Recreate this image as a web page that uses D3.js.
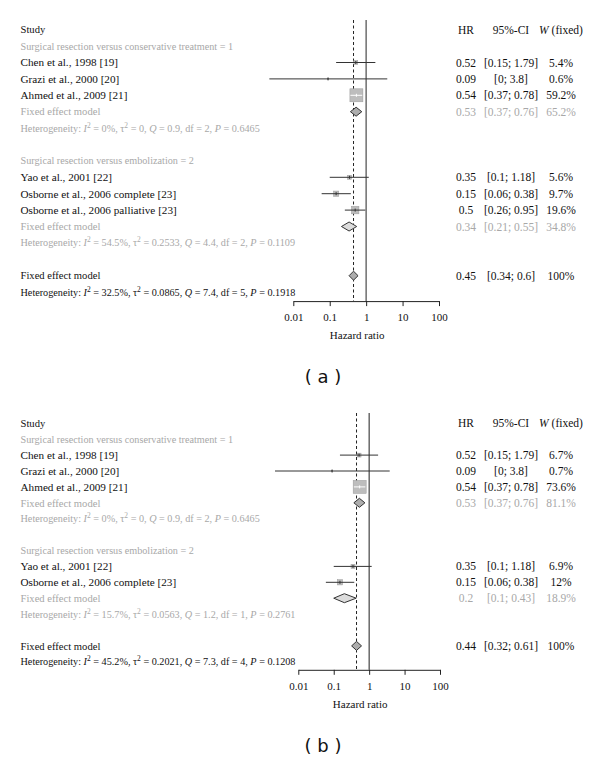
<!DOCTYPE html>
<html>
<head>
<meta charset="utf-8">
<script src="https://cdn.jsdelivr.net/npm/d3@7"></script>
<style>
  body { margin: 0; background: #fff; }
  text { font-family: "Liberation Serif", "DejaVu Serif", serif; }
</style>
</head>
<body>
<svg width="600" height="762"></svg>
<script>
// data
const groupLabels = ["Surgical resection versus conservative treatment = 1",
                     "Surgical resection versus embolization = 2"];
const tickValues = [0.01, 0.1, 1, 10, 100];

// panel (a)
const studiesA = ["Chen et al., 1998 [19]", "Grazi et al., 2000 [20]", "Ahmed et al., 2009 [21]",
                  "Yao et al., 2001 [22]", "Osborne et al., 2006 complete [23]", "Osborne et al., 2006 palliative [23]"];
const groupA = [1, 1, 1, 2, 2, 2];
const hrA = [0.52, 0.09, 0.54, 0.35, 0.15, 0.5];
const loA = [0.15, 0.0022, 0.37, 0.1, 0.06, 0.26];
const hiA = [1.79, 3.8, 0.78, 1.18, 0.38, 0.95];
const ciTextA = ["[0.15; 1.79]", "[0; 3.8]", "[0.37; 0.78]", "[0.1; 1.18]", "[0.06; 0.38]", "[0.26; 0.95]"];
const wA = [5.4, 0.6, 59.2, 5.6, 9.7, 19.6];
const poolHrA = [0.53, 0.34, 0.45];   // group 1, group 2, overall
const poolLoA = [0.37, 0.21, 0.34];
const poolHiA = [0.76, 0.55, 0.6];
const poolCiTextA = ["[0.37; 0.76]", "[0.21; 0.55]", "[0.34; 0.6]"];
const poolWA = ["65.2%", "34.8%", "100%"];
const hetA = [["0%", "0", "0.9", "2", "0.6465"],
              ["54.5%", "0.2533", "4.4", "2", "0.1109"],
              ["32.5%", "0.0865", "7.4", "5", "0.1918"]];

// panel (b)
const studiesB = ["Chen et al., 1998 [19]", "Grazi et al., 2000 [20]", "Ahmed et al., 2009 [21]",
                  "Yao et al., 2001 [22]", "Osborne et al., 2006 complete [23]"];
const groupB = [1, 1, 1, 2, 2];
const hrB = [0.52, 0.09, 0.54, 0.35, 0.15];
const loB = [0.15, 0.0022, 0.37, 0.1, 0.06];
const hiB = [1.79, 3.8, 0.78, 1.18, 0.38];
const ciTextB = ["[0.15; 1.79]", "[0; 3.8]", "[0.37; 0.78]", "[0.1; 1.18]", "[0.06; 0.38]"];
const wB = [6.7, 0.7, 73.6, 6.9, 12];
const poolHrB = [0.53, 0.2, 0.44];
const poolLoB = [0.37, 0.1, 0.32];
const poolHiB = [0.76, 0.43, 0.61];
const poolCiTextB = ["[0.37; 0.76]", "[0.1; 0.43]", "[0.32; 0.61]"];
const poolWB = ["81.1%", "18.9%", "100%"];
const hetB = [["0%", "0", "0.9", "2", "0.6465"],
              ["15.7%", "0.0563", "1.2", "1", "0.2761"],
              ["45.2%", "0.2021", "7.3", "4", "0.1208"]];

const GREY = "#a8a8a8", BLACK = "#111";
const svg = d3.select("svg");

function hetText(sel, h) {
  sel.append("tspan").text("Heterogeneity: ");
  sel.append("tspan").attr("font-style", "italic").text("I");
  sel.append("tspan").attr("dy", -4).attr("font-size", "7.5px").text("2");
  sel.append("tspan").attr("dy", 4).text(" = " + h[0] + ", \u03c4");
  sel.append("tspan").attr("dy", -4).attr("font-size", "7.5px").text("2");
  sel.append("tspan").attr("dy", 4).text(" = " + h[1] + ", ");
  sel.append("tspan").attr("font-style", "italic").text("Q");
  sel.append("tspan").text(" = " + h[2] + ", df = " + h[3] + ", ");
  sel.append("tspan").attr("font-style", "italic").text("P");
  sel.append("tspan").text(" = " + h[4]);
}

function forest(p) {
  const g = svg.append("g");
  const x = d3.scaleLog().domain([0.01, 100]).range(p.xRange);
  const size = d3.scaleSqrt().domain([0, d3.max(p.w)]).range([0, 13]);

  // build row layout
  const rows = [];
  rows.push({type: "head"});
  [1, 2].forEach(gr => {
    rows.push({type: "group", g: gr});
    p.studies.forEach((s, i) => { if (p.group[i] === gr) rows.push({type: "study", i: i}); });
    rows.push({type: "pool", k: gr - 1});
    rows.push({type: "het", k: gr - 1});
    rows.push({type: "blank"});
  });
  rows.push({type: "pool", k: 2});
  rows.push({type: "het", k: 2});
  const y = i => p.top + i * p.rowH;
  const axisY = y(rows.length - 1) + p.axisGap;
  const colHR = 466, colCI = 511, colW = 561;

  // reference lines
  g.append("line")
    .attr("x1", x(1)).attr("x2", x(1))
    .attr("y1", p.lineTop).attr("y2", axisY)
    .attr("stroke", p.refCol).attr("stroke-width", p.refW);
  g.append("line")
    .attr("x1", x(p.poolHr[2])).attr("x2", x(p.poolHr[2]))
    .attr("y1", p.lineTop).attr("y2", axisY)
    .attr("stroke", "#222").attr("stroke-width", 1).attr("stroke-dasharray", "3,2.5");

  rows.forEach((r, ri) => {
    const yy = y(ri);
    const txt = (xx, s, col, anchor, fs) => g.append("text")
      .attr("x", xx).attr("y", yy).attr("dy", "0.35em")
      .attr("text-anchor", anchor || "middle")
      .attr("font-size", fs || "11.5px").attr("fill", col).text(s);
    const left = (s, col, fs) => txt(20.5, s, col, "start", fs || "10.6px");

    if (r.type === "head") {
      left("Study", BLACK);
      txt(colHR, "HR", BLACK);
      txt(colCI, "95%-CI", BLACK);
      const t = txt(colW, "", BLACK);
      t.append("tspan").attr("font-style", "italic").text("W");
      t.append("tspan").text(" (fixed)");
    } else if (r.type === "group") {
      left(groupLabels[r.g - 1], GREY, "10.2px");
    } else if (r.type === "study") {
      const i = r.i, s = size(p.w[i]);
      left(p.studies[i], BLACK, "11.2px");
      txt(colHR, String(p.hr[i]), BLACK);
      txt(colCI, p.ciText[i], BLACK);
      txt(colW, p.w[i] + "%", BLACK);
      g.append("rect")
        .attr("x", x(p.hr[i]) - s / 2).attr("y", yy - s / 2)
        .attr("width", s).attr("height", s)
        .attr("fill", "#bdbdbd").attr("stroke", "#9a9a9a").attr("stroke-width", 0.5);
      const inside = x(p.lo[i]) > x(p.hr[i]) - s / 2 && x(p.hi[i]) < x(p.hr[i]) + s / 2;
      g.append("line")
        .attr("x1", x(p.lo[i])).attr("x2", x(p.hi[i]))
        .attr("y1", yy).attr("y2", yy)
        .attr("stroke", inside ? "#fff" : "#333").attr("stroke-width", 1);
      g.append("line")
        .attr("x1", x(p.hr[i])).attr("x2", x(p.hr[i]))
        .attr("y1", yy - 1.5).attr("y2", yy + 1.5)
        .attr("stroke", inside ? "#fff" : "#333").attr("stroke-width", 1);
    } else if (r.type === "pool") {
      const k = r.k, col = k < 2 ? GREY : BLACK, h = 4.5;
      left("Fixed effect model", col);
      txt(colHR, String(p.poolHr[k]), col);
      txt(colCI, p.poolCiText[k], col);
      txt(colW, p.poolW[k], col);
      const pts = [[x(p.poolLo[k]), yy], [x(p.poolHr[k]), yy - h],
                   [x(p.poolHi[k]), yy], [x(p.poolHr[k]), yy + h]];
      g.append("polygon")
        .attr("points", pts.map(d => d.join(",")).join(" "))
        .attr("fill", k === 1 ? "#dcdcdc" : "#adadad")
        .attr("stroke", "#333").attr("stroke-width", 1);
    } else if (r.type === "het") {
      const t = left("", r.k < 2 ? GREY : BLACK, "10.2px");
      hetText(t, p.het[r.k]);
    }
  });

  // axis
  const ax = g.append("g")
    .attr("transform", "translate(0," + axisY + ")")
    .call(d3.axisBottom(x).tickValues(tickValues).tickFormat(d => String(d))
      .tickSize(5).tickSizeOuter(0));
  ax.select(".domain").attr("stroke", "#222");
  ax.selectAll(".tick line").attr("stroke", "#222");
  ax.selectAll(".tick text")
    .attr("font-family", "Liberation Serif, serif").attr("font-size", "11px")
    .attr("fill", BLACK).attr("dy", "1.1em");
  g.append("text")
    .attr("x", x(1) - 9).attr("y", axisY + 38)
    .attr("text-anchor", "middle").attr("font-size", "11px").attr("fill", BLACK)
    .text("Hazard ratio");

  g.append("text")
    .attr("x", 323).attr("y", p.labelY)
    .attr("text-anchor", "middle")
    .style("font-family", "DejaVu Sans, sans-serif").attr("font-size", "18px")
    .attr("fill", BLACK).text(p.label);
}

forest({studies: studiesA, group: groupA, hr: hrA, lo: loA, hi: hiA, ciText: ciTextA, w: wA,
        poolHr: poolHrA, poolLo: poolLoA, poolHi: poolHiA, poolCiText: poolCiTextA, poolW: poolWA,
        het: hetA, top: 29.7, rowH: 16.4, axisGap: 9, xRange: [293.3, 439],
        lineTop: 20, refCol: "#777", refW: 1.6, labelY: 383, label: "( a )"});

forest({studies: studiesB, group: groupB, hr: hrB, lo: loB, hi: hiB, ciText: ciTextB, w: wB,
        poolHr: poolHrB, poolLo: poolLoB, poolHi: poolHiB, poolCiText: poolCiTextB, poolW: poolWB,
        het: hetB, top: 423.3, rowH: 15.9, axisGap: 8, xRange: [298.3, 440],
        lineTop: 413, refCol: "#333", refW: 1.1, labelY: 752, label: "( b )"});
</script>
</body>
</html>
